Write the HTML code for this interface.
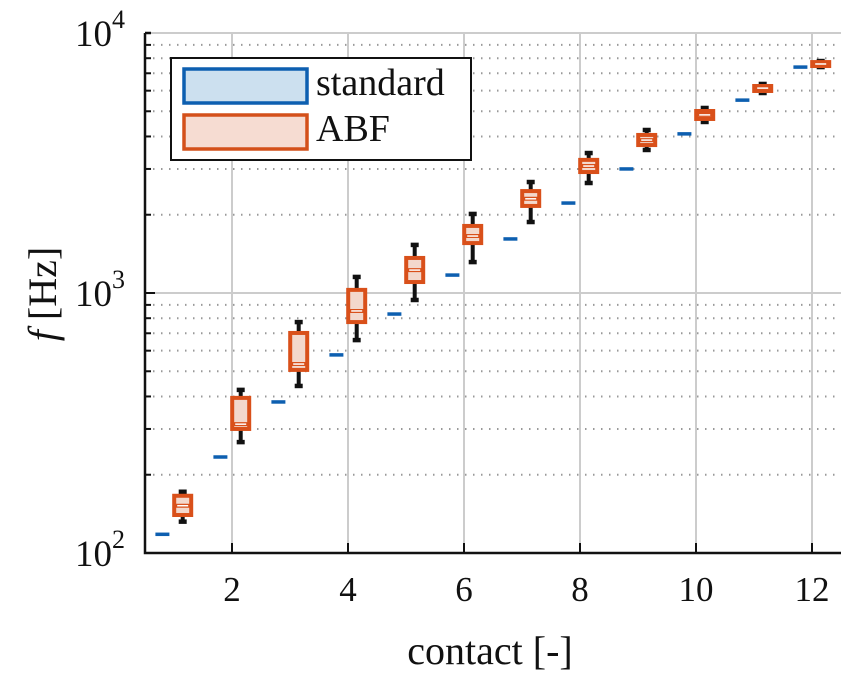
<!DOCTYPE html>
<html><head><meta charset="utf-8"><style>
body{margin:0;background:#fff}
svg text{font-family:"Liberation Serif",serif;fill:#111}
</style></head><body>
<svg width="851" height="682" id="chart">
<g id="grid"></g>
<g id="marks"></g>
<g id="axes"></g>
<text x="490" y="664" font-size="40" text-anchor="middle">contact [-]</text>
<text transform="translate(56,294) rotate(-90)" font-size="40" text-anchor="middle"><tspan font-style="italic">f</tspan> [Hz]</text>
<g>
<rect x="171" y="58" width="300" height="102" fill="#fff" stroke="#111" stroke-width="2"/>
<rect x="184" y="69" width="123" height="34" fill="#cce0ef" stroke="#0d5fb0" stroke-width="3.5"/>
<text x="316" y="95" font-size="38">standard</text>
<rect x="184" y="115" width="123" height="34" fill="#f6dcd2" stroke="#d4501a" stroke-width="3.5"/>
<text x="316" y="141" font-size="38">ABF</text>
</g>
</svg>
<script>
const contacts=[1,2,3,4,5,6,7,8,9,10,11,12];
const standard=[118,234,381,578,830,1172,1614,2218,3000,4093,5518,7394];
const abfLow=[132,267,439,659,940,1315,1875,2649,3549,4548,5878,7396];
const abfQ1=[140,300,506,773,1102,1556,2162,2919,3707,4670,5984,7464];
const abfMed=[152,313,533,853,1225,1656,2303,3078,3874,4842,6138,7600];
const abfQ3=[166,395,702,1028,1364,1811,2466,3251,4054,5012,6254,7730];
const abfHigh=[172,424,773,1153,1531,2014,2672,3454,4236,5148,6368,7800];
const xTicks=[2,4,6,8,10,12];
const yDecades=[2,3,4];
const L=145,R=841,T=33,B=553;
const X=v=>L+(v-0.5)/12*(R-L);
const Y=v=>B-(Math.log10(v)-2)/2*(B-T);
const NS='http://www.w3.org/2000/svg';
function mk(tag,at,parent){const e=document.createElementNS(NS,tag);for(const k in at)e.setAttribute(k,at[k]);document.getElementById(parent).appendChild(e);return e;}
for(let d=2;d<4;d++)for(let m=2;m<=9;m++){const y=Y(m*Math.pow(10,d));
const e=mk('line',{x1:L,x2:R,y1:y,y2:y,stroke:'#999','stroke-width':2,'stroke-dasharray':'1.5 6.5'},'grid');

}
yDecades.forEach(d=>{const y=Y(Math.pow(10,d));
const e=mk('line',{x1:L,x2:R,y1:y,y2:y,stroke:'#ccc','stroke-width':2},'grid');

});
xTicks.forEach(t=>{const x=X(t);
const e=mk('line',{x1:x,x2:x,y1:T,y2:B,stroke:'#ccc','stroke-width':2},'grid');

});
contacts.forEach((c,i)=>{
 const xs=X(c-0.2);
 const s=mk('line',{x1:xs-7,x2:xs+7,y1:Y(standard[i]),y2:Y(standard[i]),stroke:'#0d5fb0','stroke-width':3.5},'marks');
 
 
 const xa=X(c+0.15),w=17;
 const wk=mk('line',{x1:xa,x2:xa,y1:Y(abfHigh[i]),y2:Y(abfLow[i]),stroke:'#111','stroke-width':4},'marks');
 
 
 [abfHigh[i],abfLow[i]].forEach(v=>{const cp=mk('line',{x1:xa-4,x2:xa+4,y1:Y(v),y2:Y(v),stroke:'#111','stroke-width':4.5},'marks');
 
 });
 const y1=Y(abfQ3[i]),y2=Y(abfQ1[i]);
 const bx=mk('rect',{x:xa-w/2,y:y1,width:w,height:Math.max(y2-y1,2),fill:'#f3d8cc',stroke:'#d9501a','stroke-width':4},'marks');
 
 
 const md=mk('line',{x1:xa-w/2,x2:xa+w/2,y1:Y(abfMed[i]),y2:Y(abfMed[i]),stroke:'#d9501a','stroke-width':4},'marks');
 
 
 const mw=mk('line',{x1:xa-w/2+3,x2:xa+w/2-3,y1:Y(abfMed[i]),y2:Y(abfMed[i]),stroke:'#fff','stroke-width':1.5},'marks');
 
 
});
const ax=mk('path',{d:`M${L},${T}H${L+6}M${L},${T}V${B}H${R}`,stroke:'#111','stroke-width':2.5,fill:'none'},'axes');


for(let d=2;d<4;d++)for(let m=1;m<=9;m++){const y=Y(m*Math.pow(10,d));const len=m==1?10:6;
const t=mk('line',{x1:L,x2:L+len,y1:y,y2:y,stroke:'#111','stroke-width':2},'axes');

}
yDecades.forEach(d=>{const y=Y(Math.pow(10,d));
const t=mk('text',{x:L-20,y:y+13,'font-size':37,'text-anchor':'end'},'axes');


t.innerHTML='10<tspan dy="-18" font-size="26">'+d+'</tspan>';});
xTicks.forEach(v=>{const x=X(v);
const t=mk('line',{x1:x,x2:x,y1:B,y2:B-10,stroke:'#111','stroke-width':2},'axes');


const l=mk('text',{x:x,y:B+48,'font-size':35,'text-anchor':'middle'},'axes');


l.textContent=v;});
</script>
</body></html>
